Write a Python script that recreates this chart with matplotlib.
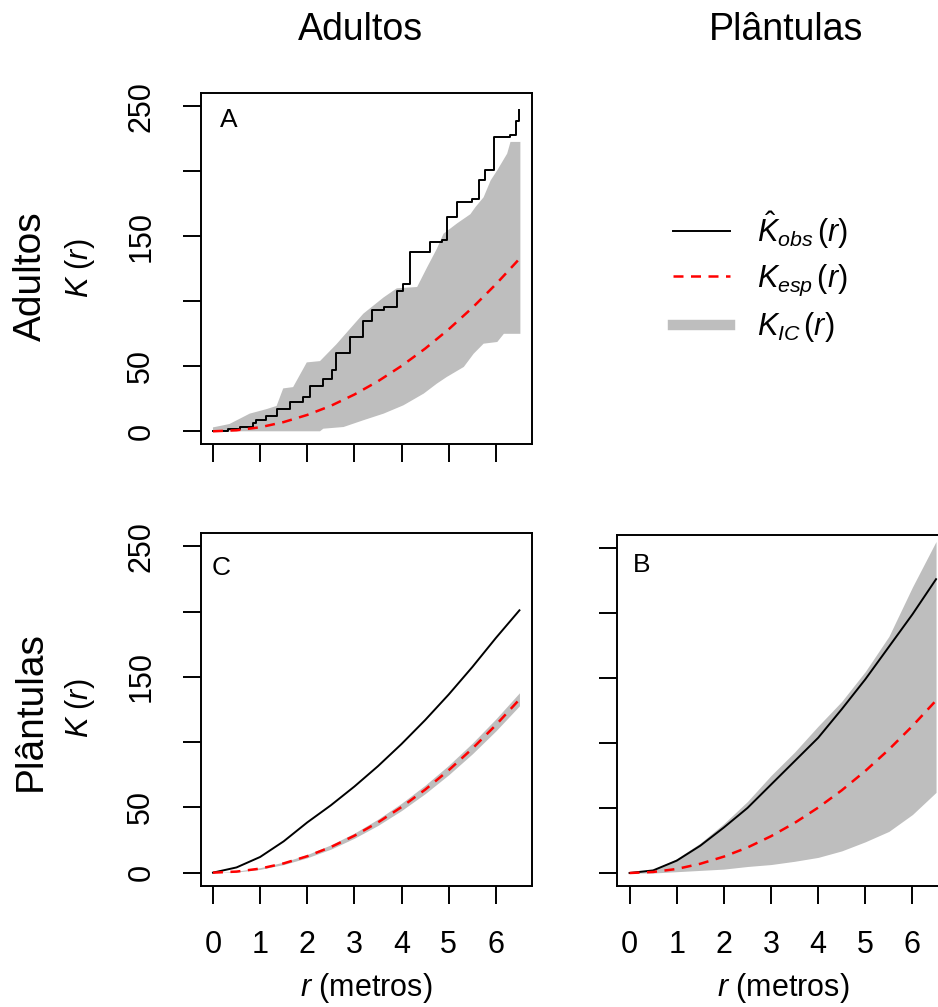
import matplotlib
matplotlib.use("Agg")
import matplotlib.pyplot as plt
from matplotlib.lines import Line2D

# ---- data ----
r_grid = [0, 0.5, 1, 1.5, 2, 2.5, 3, 3.5, 4, 4.5, 5, 5.5, 6, 6.5]
k_esp = [0, 0.8, 3.1, 7.1, 12.6, 19.6, 28.3, 38.5, 50.3, 63.6, 78.5, 95.0, 113.1, 132.7]

# A: adultos x adultos (observed step curve)
a_obs_r = [0, 0.32, 0.57, 0.85, 0.92, 1.13, 1.35, 1.63, 1.91, 2.06, 2.34, 2.52, 2.62,
           2.91, 3.19, 3.37, 3.62, 3.9, 4.04, 4.18, 4.54, 4.6, 4.86, 4.96, 5.18, 5.5,
           5.64, 5.78, 5.96, 6.31, 6.42, 6.5]
a_obs_k = [0, 2, 3.3, 6, 9, 12, 17, 22.6, 26, 35, 40.5, 47, 60, 72.6, 85, 93, 95.6,
           108, 113.6, 138, 138, 145.6, 147, 165, 176, 179, 193, 201, 226, 227.7, 239, 247]

# A: confidence envelope (upper and lower edges)
a_hi_r = [0, 0.35, 0.78, 1.13, 1.35, 1.49, 1.70, 1.99, 2.27, 2.62, 2.91, 3.19, 3.62,
          3.9, 4.33, 4.54, 4.75, 4.89, 5.18, 5.46, 5.57, 5.74, 5.89, 6.03, 6.24, 6.31, 6.52]
a_hi = [3, 5.6, 13.6, 17, 19.5, 33, 34, 53, 54, 67, 79, 90.5, 103, 110, 111, 126,
        140.5, 152, 160, 167, 172.6, 180, 193, 200.8, 213.6, 222.6, 222.6]
a_lo_r = [0, 2.27, 2.34, 2.77, 3.19, 3.62, 4.04, 4.47, 4.75, 4.96, 5.32, 5.53, 5.74,
          6.03, 6.17, 6.52]
a_lo = [0, 0, 2, 3.3, 8.5, 13.6, 20, 29, 36.7, 41.8, 49.5, 59.7, 67.4, 68.7, 75, 75]

# C: plantulas x adultos
c_obs = [0, 4, 12, 24, 38.5, 51.6, 66, 81.6, 98.6, 116.9, 136.5, 157.5, 179.8, 201]
c_env_lo = [0, 0.5, 2.5, 6.2, 11.4, 18.0, 26.4, 36.2, 47.6, 60.5, 75.0, 91.0, 108.6, 127.8]
c_env_hi = [0, 1.1, 3.8, 8.1, 13.9, 21.3, 30.3, 41.0, 53.2, 67.0, 82.3, 99.2, 117.8, 137.8]

# B: plantulas x plantulas
b_obs = [0, 2, 9.5, 21, 35, 50, 68, 86, 104, 126, 149, 174, 199, 226]
b_env_lo = [0, 0, 1, 2, 3, 5, 6.5, 9, 12, 17, 24, 32, 45, 62]
b_env_hi = [0, 2.5, 11, 23, 38, 55, 75, 93, 113, 132, 155, 182, 220, 255]

x_ticks = [0, 1, 2, 3, 4, 5, 6]
x_tick_labels = ["0", "1", "2", "3", "4", "5", "6"]
y_ticks = [0, 50, 100, 150, 200, 250]
y_tick_labels = ["0", "50", "", "150", "", "250"]

# ---- style ----
plt.rcParams["font.family"] = ["Liberation Sans", "DejaVu Sans"]
plt.rcParams["mathtext.fontset"] = "custom"
plt.rcParams["mathtext.rm"] = "Liberation Sans"
plt.rcParams["mathtext.it"] = "Liberation Sans:italic"
plt.rcParams["mathtext.bf"] = "Liberation Sans:bold"

GREY = "#bebebe"
W, H = 938, 1007


def box(left, top, right, bottom):
    return [left / W, 1 - bottom / H, (right - left) / W, (bottom - top) / H]


def style_axis(ax, show_x, show_y):
    ax.set_xlim(-0.26, 6.76)
    ax.set_ylim(-10, 260)
    ax.set_xticks(x_ticks)
    ax.set_yticks(y_ticks)
    ax.set_xticklabels(x_tick_labels if show_x else [])
    ax.set_yticklabels(y_tick_labels if show_y else [], rotation=90, va="center")
    ax.tick_params(direction="out", length=13, width=1.4, labelsize=22, pad=19)
    for s in ax.spines.values():
        s.set_linewidth(1.4)


fig = plt.figure(figsize=(W / 100, H / 100), dpi=100)

axA = fig.add_axes(box(200.7, 93.3, 531.7, 444.3))
axC = fig.add_axes(box(200.7, 533.3, 531.7, 885.7))
axB = fig.add_axes(box(617.3, 535, 948.3, 886))

# A
axA.fill(a_hi_r + a_lo_r[::-1], a_hi + a_lo[::-1], color=GREY, lw=0)
axA.plot(a_obs_r, a_obs_k, color="black", lw=1.4, drawstyle="steps-post")
axA.plot(r_grid, k_esp, color="red", lw=1.8, linestyle=(0, (4, 3)))
style_axis(axA, False, True)
axA.text(0.058, 0.904, "A", transform=axA.transAxes, fontsize=19, va="baseline")

# C
axC.fill_between(r_grid, c_env_lo, c_env_hi, color=GREY, lw=0)
axC.plot(r_grid, c_obs, color="black", lw=1.4)
axC.plot(r_grid, k_esp, color="red", lw=1.8, linestyle=(0, (4, 3)))
style_axis(axC, True, True)
axC.text(0.034, 0.882, "C", transform=axC.transAxes, fontsize=19, va="baseline")

# B
axB.fill_between(r_grid, b_env_lo, b_env_hi, color=GREY, lw=0)
axB.plot(r_grid, b_obs, color="black", lw=1.4)
axB.plot(r_grid, k_esp, color="red", lw=1.8, linestyle=(0, (4, 3)))
style_axis(axB, True, False)
axB.text(0.047, 0.895, "B", transform=axB.transAxes, fontsize=19, va="baseline")

for ax in (axC, axB):
    ax.text(0.5, -0.29, "$r$ (metros)", transform=ax.transAxes,
            ha="center", va="center", fontsize=22)

# headers and row labels
fig.text(360 / W, 1 - 40 / H, "Adultos", ha="center", va="baseline", fontsize=27)
fig.text(786 / W, 1 - 40 / H, "Plântulas", ha="center", va="baseline", fontsize=27)
fig.text(31 / W, 1 - 276 / H, "Adultos", rotation=90, ha="center", va="center", fontsize=28)
fig.text(31 / W, 1 - 711 / H, "Plântulas", rotation=90, ha="center", va="center", fontsize=28)
fig.text(80 / W, 1 - 268 / H, r"$K\ (r)$", rotation=90, ha="center", va="center", fontsize=22)
fig.text(80 / W, 1 - 708 / H, r"$K\ (r)$", rotation=90, ha="center", va="center", fontsize=22)

# legend
handles = [Line2D([], [], color="black", lw=1.4),
           Line2D([], [], color="red", lw=1.8, linestyle=(0, (4, 3))),
           Line2D([], [], color=GREY, lw=7.5)]
labels = [r"$\hat{K}_{obs}\,(r)$", r"$K_{esp}\,(r)$", r"$K_{IC}\,(r)$"]
fig.legend(handles, labels, loc="center left", bbox_to_anchor=(673 / W, 1 - 277 / H),
           frameon=False, fontsize=22, handlelength=1.87, handletextpad=0.88,
           labelspacing=0.4, borderpad=0, borderaxespad=0)

fig.savefig("out.png", dpi=100)
